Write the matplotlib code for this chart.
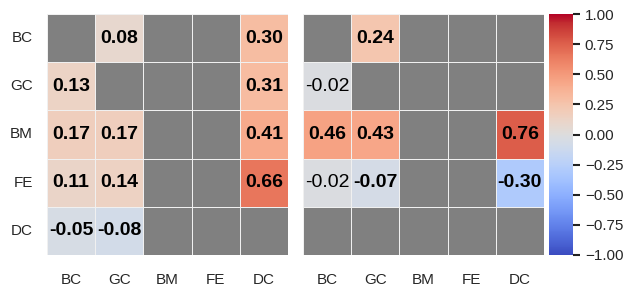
import numpy as np
import matplotlib
matplotlib.use("Agg")
import matplotlib.pyplot as plt
import seaborn as sns

sns.set_theme(style="ticks")
plt.rcParams['font.family'] = ['Liberation Sans', 'DejaVu Sans']

labels = ["BC", "GC", "BM", "FE", "DC"]
nan = np.nan
left_vals = np.array([
    [nan, 0.08, nan, nan, 0.30],
    [0.13, nan, nan, nan, 0.31],
    [0.17, 0.17, nan, nan, 0.41],
    [0.11, 0.14, nan, nan, 0.66],
    [-0.05, -0.08, nan, nan, nan],
])
left_bold = np.array([
    [0, 1, 0, 0, 1],
    [1, 0, 0, 0, 1],
    [1, 1, 0, 0, 1],
    [1, 1, 0, 0, 1],
    [1, 1, 0, 0, 0],
], dtype=bool)
right_vals = np.array([
    [nan, 0.24, nan, nan, nan],
    [-0.02, nan, nan, nan, nan],
    [0.46, 0.43, nan, nan, 0.76],
    [-0.02, -0.07, nan, nan, -0.30],
    [nan, nan, nan, nan, nan],
])
right_bold = np.array([
    [0, 1, 0, 0, 0],
    [0, 0, 0, 0, 0],
    [1, 1, 0, 0, 1],
    [0, 1, 0, 0, 1],
    [0, 0, 0, 0, 0],
], dtype=bool)
cbar_ticks = [-1, -0.75, -0.5, -0.25, 0, 0.25, 0.5, 0.75, 1]

W, H = 626, 290
fig = plt.figure(figsize=(W / 100, H / 100), dpi=100)

def px(x0, y0, x1, y1):
    return [x0 / W, 1 - y1 / H, (x1 - x0) / W, (y1 - y0) / H]

ax1 = fig.add_axes(px(47, 14, 288, 255))
ax2 = fig.add_axes(px(303, 14, 544, 255))
cax = fig.add_axes(px(549, 14, 573, 255))

def draw(ax, vals, bold, show_y, cbar):
    sns.heatmap(vals, ax=ax, cmap="coolwarm", vmin=-1, vmax=1,
                mask=np.isnan(vals), linewidths=0.5, linecolor="#f0f0f0",
                cbar=cbar, cbar_ax=cax if cbar else None,
                xticklabels=labels, yticklabels=labels if show_y else False,
                square=False)
    ax.set_facecolor("#808080")
    n = vals.shape[0]
    for i in range(n):
        for j in range(n):
            v = vals[i, j]
            if np.isnan(v):
                continue
            ax.text(j + 0.5, i + 0.5, f"{v:.2f}", ha="center", va="center",
                    fontsize=14, color="black",
                    fontweight="bold" if bold[i, j] else "normal")
    ax.tick_params(axis="both", length=0, labelsize=11)
    ax.tick_params(axis="x", pad=13, rotation=0)
    ax.tick_params(axis="y", pad=10, rotation=0)

draw(ax1, left_vals, left_bold, True, False)
draw(ax2, right_vals, right_bold, False, True)

cax.tick_params(labelsize=11, length=5, width=1.5, color="#222222")
cax.set_yticks(cbar_ticks)
cax.set_yticklabels([f"{t:.2f}".replace("-", "\u2212") for t in cbar_ticks])

fig.savefig("out.png", dpi=100)
